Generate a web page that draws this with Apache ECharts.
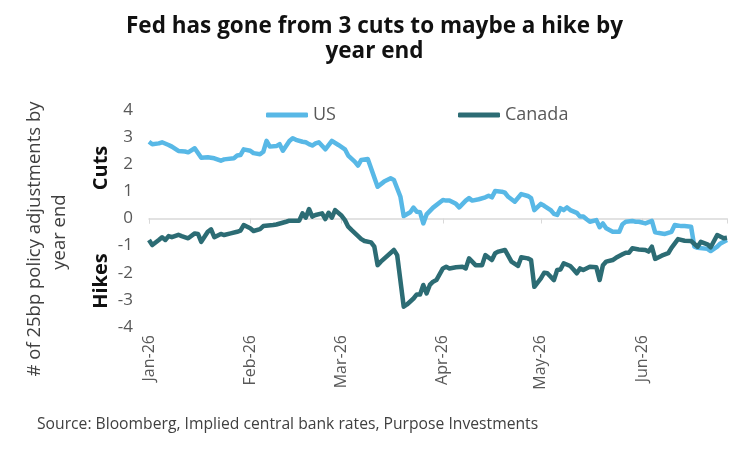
<!DOCTYPE html>
<html>
<head>
<meta charset="utf-8">
<script src="https://cdn.jsdelivr.net/npm/echarts@6/dist/echarts.min.js"></script>
<style>
  html, body { margin: 0; padding: 0; background: #fff; }
  #main { width: 749px; height: 451px; }
</style>
</head>
<body>
<div id="main"></div>
<script type="text/javascript">
// days counted from 1 Jan 2026, values = # of 25bp moves priced by year end
var usDays = [0, 1, 3, 4, 6, 7, 9, 11, 12, 14, 16, 18, 20, 22, 23, 26, 27, 28, 29, 31, 32, 34, 35, 36, 37, 39, 40, 41, 43, 44, 45, 47, 48, 49, 50, 51, 52, 54, 56, 58, 60, 61, 63, 64, 65, 67, 68, 70, 72, 74, 75, 77, 78, 80, 81, 82, 83, 84, 85, 87, 90, 91, 92, 94, 95, 97, 98, 99, 101, 103, 104, 105, 106, 108, 109, 110, 112, 114, 116, 117, 118, 120, 121, 123, 124, 125, 126, 127, 128, 129, 131, 132, 133, 134, 135, 137, 138, 139, 140, 142, 144, 145, 146, 148, 149, 150, 152, 154, 155, 157, 158, 160, 161, 163, 164, 166, 167, 168, 171, 172, 174, 175, 177];
var usVals = [2.83, 2.74, 2.77, 2.81, 2.71, 2.65, 2.49, 2.47, 2.44, 2.59, 2.24, 2.26, 2.22, 2.13, 2.18, 2.22, 2.32, 2.34, 2.55, 2.50, 2.41, 2.37, 2.46, 2.86, 2.65, 2.67, 2.74, 2.50, 2.86, 2.96, 2.90, 2.83, 2.81, 2.74, 2.69, 2.77, 2.81, 2.55, 2.86, 2.71, 2.55, 2.32, 2.10, 1.95, 2.16, 2.19, 1.85, 1.17, 1.36, 1.48, 1.42, 0.80, 0.09, 0.23, 0.40, 0.25, 0.23, -0.18, 0.15, 0.40, 0.68, 0.66, 0.66, 0.54, 0.41, 0.66, 0.75, 0.66, 0.71, 0.78, 0.84, 0.78, 1.01, 0.99, 0.95, 0.80, 0.62, 0.90, 0.83, 0.75, 0.31, 0.54, 0.47, 0.31, 0.17, 0.13, 0.38, 0.31, 0.41, 0.31, 0.21, 0.07, 0.07, -0.03, -0.12, -0.06, -0.32, -0.18, -0.36, -0.49, -0.49, -0.21, -0.12, -0.09, -0.12, -0.12, -0.18, -0.09, -0.51, -0.55, -0.57, -0.49, -0.24, -0.28, -0.28, -0.30, -1.04, -1.08, -1.12, -1.20, -1.04, -0.92, -0.79];
var caDays = [0, 1, 3, 4, 5, 6, 7, 9, 10, 12, 14, 15, 16, 18, 19, 20, 22, 23, 25, 27, 28, 29, 31, 32, 34, 35, 38, 39, 42, 43, 46, 47, 48, 49, 50, 51, 53, 54, 55, 56, 57, 59, 60, 61, 62, 65, 66, 68, 69, 70, 71, 75, 76, 78, 79, 81, 82, 83, 84, 85, 86, 87, 88, 90, 91, 92, 94, 96, 97, 98, 100, 102, 103, 105, 106, 107, 109, 111, 113, 114, 116, 117, 118, 120, 121, 122, 124, 125, 126, 127, 129, 130, 131, 132, 133, 135, 137, 138, 139, 140, 142, 143, 145, 146, 147, 148, 150, 152, 153, 154, 155, 157, 159, 160, 162, 164, 166, 168, 169, 171, 172, 174, 176, 177];
var caVals = [-0.79, -0.98, -0.79, -0.69, -0.79, -0.65, -0.69, -0.60, -0.65, -0.73, -0.55, -0.57, -0.86, -0.49, -0.40, -0.69, -0.57, -0.61, -0.55, -0.49, -0.45, -0.24, -0.36, -0.46, -0.39, -0.28, -0.24, -0.22, -0.12, -0.08, -0.08, 0.19, 0.03, 0.35, 0.07, 0.13, 0.19, -0.02, 0.21, 0.03, 0.31, 0.10, -0.06, -0.30, -0.42, -0.76, -0.83, -0.88, -1.04, -1.72, -1.59, -1.16, -1.35, -3.25, -3.17, -2.95, -2.80, -2.80, -2.45, -2.76, -2.45, -2.33, -2.27, -1.84, -1.78, -1.84, -1.80, -1.78, -1.84, -1.47, -1.72, -1.72, -1.35, -1.53, -1.28, -1.22, -1.16, -1.59, -1.75, -1.43, -1.47, -1.53, -2.52, -2.21, -2.00, -2.02, -2.27, -1.90, -1.88, -1.65, -1.75, -1.88, -2.02, -1.84, -1.90, -1.78, -1.80, -2.27, -1.72, -1.59, -1.53, -1.45, -1.32, -1.26, -1.26, -1.10, -1.14, -1.16, -1.22, -1.04, -1.49, -1.37, -1.28, -1.08, -0.76, -0.82, -0.83, -1.04, -0.86, -0.95, -1.06, -0.61, -0.73, -0.71];
var monthNames = ['Jan', 'Feb', 'Mar', 'Apr', 'May', 'Jun', 'Jul', 'Aug', 'Sep', 'Oct', 'Nov', 'Dec'];
var yTicks = [-4, -3, -2, -1, 0, 1, 2, 3, 4];

var FONT = 'Open Sans';
var DAY = 86400000;

function dayToTime(d) {
	return new Date(2026, 0, 1 + d).getTime();
}
function toSeries(days, vals) {
	var out = [];
	for (var i = 0; i < days.length; i++) {
		out.push([dayToTime(days[i]), vals[i]]);
	}
	return out;
}
function monthLabel(v) {
	var d = new Date(v);
	return monthNames[d.getMonth()] + '-' + String(d.getFullYear()).slice(2);
}

var chart = echarts.init(document.getElementById('main'));

var xMin = dayToTime(0);
var xMax = dayToTime(177);

chart.setOption({
	animation: false,
	backgroundColor: '#fff',
	textStyle: { fontFamily: FONT },
	title: {
		text: 'Fed has gone from 3 cuts to maybe a hike by\nyear end',
		left: 'center',
		top: 9,
		textStyle: { fontSize: 22.5, fontWeight: 'bold', color: '#111', lineHeight: 25, fontFamily: FONT }
	},
	legend: {
		left: 261,
		top: 101,
		itemWidth: 42,
		itemHeight: 5,
		itemGap: 122,
		icon: 'roundRect',
		textStyle: { fontSize: 18, color: '#595959', fontFamily: FONT },
		data: ['US', 'Canada']
	},
	grid: { left: 149, right: 22, top: 110, bottom: 124 },
	xAxis: [{
		type: 'time',
		min: xMin,
		max: xMax,
		minInterval: 28 * DAY,
		maxInterval: 31 * DAY,
		axisLine: { onZero: true, lineStyle: { color: '#d9d9d9', width: 1.5 } },
		axisTick: { show: true, length: 5, lineStyle: { color: '#d9d9d9' } },
		axisLabel: { show: false },
		splitLine: { show: false }
	}, {
		type: 'time',
		position: 'bottom',
		min: xMin,
		max: xMax,
		minInterval: 28 * DAY,
		maxInterval: 31 * DAY,
		axisLine: { show: false, onZero: false },
		axisTick: { show: false },
		splitLine: { show: false },
		axisLabel: {
			rotate: 90,
			margin: 8,
			fontSize: 16,
			color: '#595959',
			fontFamily: FONT,
			formatter: monthLabel
		}
	}],
	yAxis: {
		type: 'value',
		min: yTicks[0],
		max: yTicks[yTicks.length - 1],
		interval: 1,
		axisLine: { show: false },
		axisTick: { show: false },
		splitLine: { show: false },
		axisLabel: { fontSize: 17, color: '#595959', margin: 16, fontFamily: FONT }
	},
	graphic: [
		{ type: 'text', x: 35, y: 239, rotation: Math.PI / 2,
			style: { text: '# of 25bp policy adjustments by', fontSize: 18.5, fill: '#404040', fontFamily: FONT, align: 'center', verticalAlign: 'middle' } },
		{ type: 'text', x: 60, y: 232, rotation: Math.PI / 2,
			style: { text: 'year end', fontSize: 18.5, fill: '#404040', fontFamily: FONT, align: 'center', verticalAlign: 'middle' } },
		{ type: 'text', x: 101, y: 168, rotation: Math.PI / 2,
			style: { text: 'Cuts', fontSize: 20, fontWeight: 'bold', fill: '#111', fontFamily: FONT, align: 'center', verticalAlign: 'middle' } },
		{ type: 'text', x: 101, y: 281, rotation: Math.PI / 2,
			style: { text: 'Hikes', fontSize: 20, fontWeight: 'bold', fill: '#111', fontFamily: FONT, align: 'center', verticalAlign: 'middle' } },
		{ type: 'text', x: 37, y: 425,
			style: { text: 'Source: Bloomberg, Implied central bank rates, Purpose Investments', fontSize: 15.7, fill: '#404040', fontFamily: FONT, align: 'left', verticalAlign: 'middle' } }
	],
	series: [{
		name: 'US',
		type: 'line',
		xAxisIndex: 0,
		showSymbol: false,
		color: '#58B8E6',
		lineStyle: { width: 4.5, color: '#58B8E6', join: 'round' },
		data: toSeries(usDays, usVals)
	}, {
		name: 'Canada',
		type: 'line',
		xAxisIndex: 0,
		showSymbol: false,
		color: '#2C6C74',
		lineStyle: { width: 4.5, color: '#2C6C74', join: 'round' },
		data: toSeries(caDays, caVals)
	}]
});
</script>
</body>
</html>
